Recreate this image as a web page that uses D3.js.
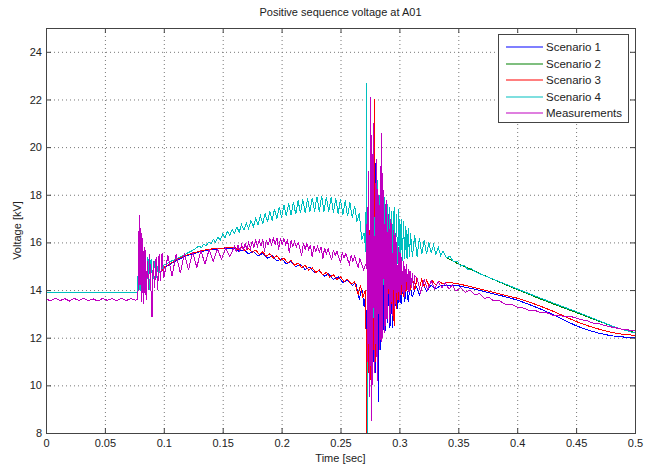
<!DOCTYPE html>
<html>
<head>
<meta charset="utf-8">
<script src="https://cdn.jsdelivr.net/npm/d3@7"></script>
<style>
body{margin:0;background:#fff;}
text{font-family:"Liberation Sans",Arial,sans-serif;fill:#222;}
</style>
</head>
<body>
<div id="chart"></div>
<script>
// axis ticks
var timeTicks = [0,0.05,0.1,0.15,0.2,0.25,0.3,0.35,0.4,0.45,0.5];
var timeTickLabels = ["0","0.05","0.1","0.15","0.2","0.25","0.3","0.35","0.4","0.45","0.5"];
var voltTicks = [8,10,12,14,16,18,20,22,24];
var seriesNames = ["Scenario 1","Scenario 2","Scenario 3","Scenario 4","Measurements"];

// [time s, voltage kV]
// all four scenarios sit on top of each other until ~0.1 s
var prefault = [[0,13.88],[0.078,13.88]];
var jump = [[0.0784,16.4],[0.0792,14.0],[0.0800,16.2],[0.0808,13.5],[0.0818,15.9],[0.0828,13.6],
  [0.0840,15.6],[0.0852,13.8],[0.0865,15.4],[0.0878,14.0],[0.0892,15.3],[0.0906,14.3],
  [0.0920,15.2],[0.0935,14.5],[0.0950,15.0],[0.0970,14.7]];

// Scenario 4 (Scenario 2 lies under it until ~0.34 s)
var s4Main = [[0.100,15.05],[0.105,15.18],[0.110,15.3],[0.115,15.42],[0.120,15.55],[0.125,15.68],
  [0.130,15.85],[0.132,15.78],[0.134,15.93],[0.136,15.86],[0.138,16.01],[0.140,15.95],[0.142,16.12],[0.144,16.02],
  [0.146,16.22],[0.148,16.10],[0.150,16.36],[0.152,16.20],[0.154,16.46],[0.156,16.28],[0.158,16.55],[0.160,16.38],
  [0.162,16.64],[0.164,16.44],[0.166,16.74],[0.168,16.52],[0.170,16.82],[0.172,16.58],[0.174,16.92],[0.176,16.64],
  [0.178,17.02],[0.180,16.72],[0.182,17.12],[0.184,16.78],[0.186,17.22],[0.188,16.86],[0.190,17.30],[0.192,16.92],
  [0.194,17.40],[0.196,16.98],[0.198,17.50],[0.200,17.04],[0.202,17.58],[0.204,17.10],[0.206,17.64],[0.208,17.14],
  [0.210,17.70],[0.212,17.18],[0.214,17.76],[0.216,17.22],[0.218,17.80],[0.220,17.24],[0.222,17.84],[0.224,17.28],
  [0.226,17.88],[0.228,17.30],[0.230,17.92],[0.232,17.30],[0.234,17.95],[0.236,17.30],[0.238,17.92],[0.240,17.28],
  [0.242,17.90],[0.244,17.24],[0.246,17.86],[0.248,17.20],[0.250,17.80],[0.252,17.16],[0.254,17.76],[0.256,17.10],
  [0.258,17.68],[0.260,17.02],[0.262,17.54],[0.264,16.88],[0.266,17.24],[0.268,16.10],[0.270,16.40],[0.2715,15.6],
  [0.2722,22.7],[0.2728,7.6],[0.2735,19.0],[0.2745,10.5],[0.2755,19.5],[0.2765,11.5],[0.2775,18.8],[0.2785,12.5],
  [0.2795,18.2],[0.2805,13.0],[0.2815,18.6],[0.2825,13.4],[0.2835,18.0],[0.2845,13.8],[0.2855,17.8],[0.2865,14.2],
  [0.2875,17.9],[0.2885,14.4],[0.2895,17.6],[0.2905,14.6],[0.2915,17.5],[0.2925,14.8],[0.2935,17.3],[0.2945,14.9],
  [0.2955,17.5],[0.2965,15.0],[0.2975,17.2],[0.2985,15.1],[0.2995,17.4],[0.3005,15.1],[0.3015,17.0],[0.3025,15.2],
  [0.3035,16.9],[0.3045,15.3],[0.3055,16.7],[0.3065,15.3],[0.3075,16.6],[0.3085,15.4],[0.3095,16.4],[0.311,15.4],
  [0.313,16.3],[0.315,15.4],[0.317,16.2],[0.319,15.5],[0.321,16.1],[0.323,15.5],[0.325,16.0],[0.327,15.55],
  [0.329,15.9],[0.331,15.5],[0.333,15.8],[0.335,15.45],[0.337,15.65]];
var s4Tail = [[0.340,15.35],[0.343,15.42],[0.346,15.18],[0.349,15.22],[0.352,15.0],[0.355,15.05],[0.358,14.86],
  [0.361,14.9],[0.365,14.75],[0.370,14.65],[0.380,14.45],[0.390,14.25],[0.400,14.05],[0.410,13.85],[0.420,13.66],
  [0.430,13.47],[0.440,13.28],[0.450,13.1],[0.460,12.9],[0.470,12.7],[0.480,12.5],[0.490,12.33],[0.500,12.2]];
var s2Tail = [[0.340,15.35],[0.350,15.1],[0.360,14.88],[0.370,14.66],[0.380,14.44],[0.390,14.23],[0.400,14.02],
  [0.410,13.82],[0.420,13.62],[0.430,13.43],[0.440,13.24],[0.450,13.06],[0.460,12.87],[0.470,12.68],[0.480,12.5],
  [0.490,12.34],[0.500,12.22]];

// Scenario 3
var s3Main = [[0.100,14.95],[0.105,15.1],[0.110,15.25],[0.115,15.38],[0.120,15.48],[0.125,15.56],[0.130,15.62],
  [0.135,15.68],[0.140,15.72],[0.145,15.75],[0.150,15.76],[0.155,15.78],
  [0.160,15.80],[0.163,15.70],[0.166,15.80],[0.169,15.66],[0.172,15.74],[0.175,15.58],[0.178,15.68],[0.181,15.50],
  [0.184,15.60],[0.187,15.42],[0.190,15.52],[0.193,15.34],[0.196,15.44],[0.199,15.24],[0.202,15.34],[0.205,15.14],
  [0.208,15.24],[0.211,15.04],[0.214,15.14],[0.217,14.94],[0.220,15.04],[0.223,14.84],[0.226,14.94],[0.229,14.74],
  [0.232,14.84],[0.235,14.64],[0.238,14.74],[0.241,14.54],[0.244,14.64],[0.247,14.44],[0.250,14.56],[0.253,14.36],
  [0.256,14.46],[0.259,14.26],[0.262,14.34],[0.265,13.80],[0.267,14.20],[0.269,13.70],[0.271,14.00],
  [0.2718,12.0],[0.2722,7.5],[0.2730,14.5],[0.2740,10.5],[0.2750,16.5],[0.2760,9.5],[0.2770,18.0],[0.2780,11.5],
  [0.2790,22.0],[0.2797,11.0],[0.2805,17.5],[0.2815,11.8],[0.2825,16.8],[0.2835,12.2],[0.2845,16.0],[0.2855,12.8],
  [0.2865,15.8],[0.2875,12.6],[0.2885,15.5],[0.2895,13.0],[0.2905,15.2],[0.2915,13.2],[0.2925,15.0],[0.2935,13.4],
  [0.2945,14.9],[0.2955,12.5],[0.2965,14.8],[0.2975,13.2],[0.2985,14.6],[0.2995,13.6],[0.3005,14.7],[0.3015,13.8],
  [0.3025,14.5],[0.3035,13.7],[0.3045,14.6],[0.3055,13.9],[0.3065,14.5],[0.3075,13.9],[0.3085,14.6],[0.3095,14.0],
  [0.311,14.5],[0.313,14.0],[0.315,14.5],[0.317,14.1],[0.319,14.45],[0.321,14.15],[0.323,14.4],[0.325,14.2],
  [0.328,14.38],[0.331,14.22],[0.334,14.36],[0.337,14.25],[0.340,14.32],[0.345,14.30],[0.350,14.26],[0.360,14.15],
  [0.370,14.02],[0.380,13.9],[0.390,13.78],[0.400,13.66],[0.410,13.5],[0.420,13.32],[0.430,13.12],[0.440,12.9],
  [0.450,12.68],[0.460,12.5],[0.470,12.35],[0.480,12.22],[0.490,12.14],[0.500,12.1]];

// Scenario 1
var s1Main = [[0.100,14.92],[0.110,15.22],[0.120,15.45],[0.130,15.6],[0.140,15.7],[0.150,15.74],[0.160,15.74],
  [0.164,15.62],[0.168,15.70],[0.172,15.52],[0.176,15.62],[0.180,15.44],[0.184,15.54],[0.188,15.34],[0.192,15.44],
  [0.196,15.22],[0.200,15.32],[0.204,15.10],[0.208,15.20],[0.212,14.98],[0.216,15.08],[0.220,14.86],[0.224,14.96],
  [0.228,14.72],[0.232,14.82],[0.236,14.58],[0.240,14.68],[0.244,14.44],[0.248,14.56],[0.252,14.32],[0.256,14.42],
  [0.260,14.2],[0.263,14.3],[0.266,13.6],[0.268,14.1],[0.270,13.3],[0.2715,13.9],
  [0.2718,12.5],[0.2724,8.2],[0.2732,15.0],[0.2742,10.8],[0.2752,17.0],[0.2762,10.2],[0.2772,18.5],[0.2782,11.0],
  [0.2792,20.5],[0.2800,10.5],[0.2812,17.0],[0.2820,9.3],[0.2830,16.5],[0.2840,11.5],[0.2850,15.8],[0.2860,12.0],
  [0.2870,15.5],[0.2880,12.3],[0.2890,15.0],[0.2900,12.6],[0.2910,14.8],[0.2920,12.4],[0.2930,14.6],[0.2940,12.4],
  [0.2950,14.5],[0.2960,12.9],[0.2970,14.4],[0.2985,13.2],[0.3000,14.3],[0.3015,13.4],[0.3030,14.3],[0.3045,13.5],
  [0.3060,14.2],[0.3075,13.5],[0.309,14.2],[0.311,13.7],[0.314,14.2],[0.317,13.8],[0.320,14.25],[0.323,13.95],
  [0.327,14.2],[0.331,14.05],[0.335,14.2],[0.340,14.2],[0.350,14.18],[0.360,14.08],[0.370,13.96],[0.380,13.84],
  [0.390,13.72],[0.400,13.58],[0.410,13.4],[0.420,13.2],[0.430,12.98],[0.440,12.74],[0.450,12.5],[0.460,12.32],
  [0.470,12.18],[0.480,12.08],[0.490,12.03],[0.500,12.0]];

// Measurements
var measured = [[0,13.62],[0.004,13.55],[0.008,13.66],[0.012,13.56],[0.016,13.64],[0.020,13.54],[0.024,13.65],
  [0.028,13.56],[0.032,13.66],[0.036,13.55],[0.040,13.63],[0.044,13.54],[0.048,13.65],[0.052,13.57],[0.056,13.64],
  [0.060,13.55],[0.064,13.66],[0.068,13.56],[0.072,13.64],[0.076,13.58],[0.0780,13.6],
  [0.0786,15.5],[0.0792,17.15],[0.0798,14.2],[0.0806,16.6],[0.0814,13.5],[0.0822,16.2],[0.0830,13.4],[0.0840,15.8],
  [0.0850,13.6],[0.0860,15.2],[0.0870,14.0],[0.0880,15.5],[0.0892,13.9],[0.0900,12.85],[0.0910,15.2],[0.0922,14.1],
  [0.0935,15.4],[0.0948,14.0],[0.0960,15.5],[0.0972,14.4],[0.0985,15.55],[0.1000,14.5],
  [0.1035,15.45],[0.1070,14.6],[0.1105,15.5],[0.1140,14.7],[0.1175,15.55],[0.1210,14.85],[0.1245,15.6],[0.1280,14.95],
  [0.1315,15.65],[0.1350,15.1],[0.1385,15.7],[0.1420,15.2],[0.1455,15.72],[0.1490,15.3],[0.1525,15.75],[0.156,15.4],
  [0.1600,15.84],[0.1615,15.62],[0.1630,15.88],[0.1645,15.64],[0.1660,15.90],[0.1675,15.68],[0.1690,15.95],[0.1705,15.72],
  [0.1720,15.98],[0.1735,15.76],[0.1750,16.04],[0.1765,15.80],[0.1780,16.08],[0.1795,15.84],[0.1810,16.10],[0.1825,15.86],
  [0.1840,16.12],[0.1855,15.62],[0.1870,16.10],[0.1885,15.88],[0.1900,16.16],[0.1915,15.90],[0.1930,16.18],[0.1945,15.92],
  [0.1960,16.20],[0.1975,15.70],[0.1990,16.18],[0.2005,15.92],[0.2020,16.16],[0.2035,15.90],[0.2050,16.12],[0.2065,15.55],
  [0.2080,16.08],[0.2095,15.84],[0.2110,16.06],[0.2125,15.80],[0.2140,16.00],[0.2155,15.76],[0.2170,15.42],[0.2185,15.96],
  [0.2200,15.72],[0.2215,15.94],[0.2230,15.70],[0.2245,15.90],[0.2260,15.38],[0.2275,15.86],[0.2290,15.62],[0.2305,15.84],
  [0.2320,15.58],[0.2335,15.80],[0.2350,15.32],[0.2365,15.76],[0.2380,15.52],[0.2395,15.74],[0.2410,15.48],[0.2425,15.26],
  [0.2440,15.68],[0.2455,15.44],[0.2470,15.64],[0.2485,15.38],[0.2500,15.14],[0.2515,15.58],[0.2530,15.34],[0.2545,15.54],
  [0.2560,15.30],[0.2575,15.08],[0.2590,15.46],[0.2605,15.22],[0.2620,15.42],[0.2635,15.18],[0.2650,14.95],[0.2665,15.32],
  [0.2680,15.10],[0.2695,14.85],
  [0.2715,15.1],[0.2720,14.9],[0.2727,17.5],[0.2733,11.0],[0.2740,19.0],[0.2747,9.5],[0.2754,22.1],[0.2760,8.5],
  [0.2767,20.5],[0.2774,10.0],[0.2781,21.0],[0.2788,10.5],[0.2795,18.5],[0.2802,11.2],[0.2809,19.5],[0.2816,10.2],
  [0.2823,18.0],[0.2830,11.5],[0.2837,19.2],[0.2844,11.8],[0.2851,20.6],[0.2858,12.0],[0.2865,18.2],[0.2872,12.2],
  [0.2879,17.6],[0.2886,12.5],[0.2893,17.8],[0.2900,12.8],[0.2907,17.2],[0.2914,12.6],[0.2921,17.0],[0.2928,13.0],
  [0.2935,16.8],[0.2942,12.9],[0.2949,16.5],[0.2956,13.2],[0.2963,16.4],[0.2970,13.4],[0.2977,16.0],[0.2984,13.6],
  [0.2991,15.8],[0.2998,13.5],[0.3005,15.6],[0.3012,13.8],[0.3019,15.4],[0.3026,13.9],[0.3033,15.2],[0.3040,13.7],
  [0.3047,15.0],[0.3054,14.0],[0.3061,15.1],[0.3068,14.0],[0.3075,14.9],[0.3082,13.9],[0.309,14.8],[0.310,14.1],
  [0.311,14.7],[0.312,14.0],[0.313,14.6],[0.315,14.5],[0.318,13.9],[0.321,14.45],[0.324,14.0],[0.327,14.4],
  [0.330,14.05],[0.333,14.35],[0.336,14.1],[0.339,14.3],[0.342,14.05],[0.345,14.2],[0.348,13.95],[0.352,14.1],
  [0.356,13.9],[0.360,14.0],[0.364,13.8],[0.368,13.85],[0.372,13.65],[0.376,13.7],[0.380,13.55],[0.385,13.55],
  [0.390,13.4],[0.395,13.4],[0.400,13.28],[0.405,13.25],[0.410,13.15],[0.415,13.15],[0.420,13.05],[0.425,13.05],
  [0.430,12.95],[0.435,12.95],[0.440,12.88],[0.445,12.9],[0.450,12.82],[0.455,12.75],[0.460,12.7],[0.465,12.6],
  [0.470,12.58],[0.475,12.5],[0.480,12.45],[0.485,12.4],[0.490,12.35],[0.495,12.32],[0.500,12.3]];

function init(){
    var w = 650;
    var h = 466;
    var left = 46, right = 635, top = 28, bottom = 433;
    var colors = ["#0000ff","#008000","#ff0000","#00bfbf","#bf00bf"];

    var x = d3.scaleLinear().domain([0, 0.5]).range([left, right]);
    var y = d3.scaleLinear().domain([8, 25]).range([bottom, top]);

    var svg = d3.select("#chart")
                .append("svg")
                .attr("width", w)
                .attr("height", h);

    svg.append("clipPath")
        .attr("id", "plotclip")
        .append("rect")
        .attr("x", left).attr("y", top)
        .attr("width", right - left).attr("height", bottom - top);

    // dotted grid
    svg.append("g").selectAll("line")
        .data(timeTicks.slice(1, -1))
        .enter().append("line")
        .attr("x1", function(d){ return x(d) + 0.5; })
        .attr("x2", function(d){ return x(d) + 0.5; })
        .attr("y1", top).attr("y2", bottom)
        .style("stroke", "#777").style("stroke-dasharray", "1,3");
    svg.append("g").selectAll("line")
        .data(voltTicks)
        .enter().append("line")
        .attr("y1", function(d){ return y(d) + 0.5; })
        .attr("y2", function(d){ return y(d) + 0.5; })
        .attr("x1", left).attr("x2", right)
        .style("stroke", "#777").style("stroke-dasharray", "1,3");

    var series = [
        prefault.concat(jump, s1Main),
        prefault.concat(jump, s4Main, s2Tail),
        prefault.concat(jump, s3Main),
        prefault.concat(jump, s4Main, s4Tail),
        measured
    ];

    var line = d3.line()
                .x(function(d){ return x(d[0]); })
                .y(function(d){ return y(d[1]); });

    // MATLAB-style aliased lines, so the curves drawn later fully hide the ones beneath
    svg.append("g")
        .attr("clip-path", "url(#plotclip)")
        .selectAll("path")
        .data(series)
        .enter()
        .append("path")
        .attr("d", line)
        .attr("shape-rendering", "crispEdges")
        .style("fill", "none")
        .style("stroke", function(d, i){ return colors[i]; })
        .style("stroke-width", 1);

    // axes with inward ticks
    var xAxis = d3.axisBottom(x).tickValues(timeTicks)
                .tickFormat(function(d, i){ return timeTickLabels[i]; })
                .tickSizeInner(-5).tickSizeOuter(0).tickPadding(6);
    var yAxis = d3.axisLeft(y).tickValues(voltTicks)
                .tickSizeInner(-5).tickSizeOuter(0).tickPadding(4);

    svg.append("g").attr("class", "axis").attr("transform", "translate(0," + bottom + ")").call(xAxis);
    svg.append("g").attr("class", "axis").attr("transform", "translate(" + left + ",0)").call(yAxis);
    svg.append("g").attr("class", "axis").attr("transform", "translate(0," + top + ")")
        .call(d3.axisTop(x).tickValues(timeTicks).tickFormat("").tickSizeInner(-5).tickSizeOuter(0));
    svg.append("g").attr("class", "axis").attr("transform", "translate(" + right + ",0)")
        .call(d3.axisRight(y).tickValues(voltTicks).tickFormat("").tickSizeInner(-5).tickSizeOuter(0));

    svg.selectAll(".axis .domain").remove();
    svg.selectAll(".axis line").style("stroke", "#444");
    svg.selectAll(".axis text").style("font-size", "11px").style("fill", "#222")
        .style("font-family", "'Liberation Sans', Arial, sans-serif");

    svg.append("rect")
        .attr("x", left + 0.5).attr("y", top + 0.5)
        .attr("width", right - left).attr("height", bottom - top)
        .style("fill", "none").style("stroke", "#444");

    // titles
    svg.append("text").attr("x", (left + right) / 2).attr("y", 16)
        .attr("text-anchor", "middle").style("font-size", "11px")
        .text("Positive sequence voltage at A01");
    svg.append("text").attr("x", (left + right) / 2).attr("y", 462)
        .attr("text-anchor", "middle").style("font-size", "11px")
        .text("Time [sec]");
    svg.append("text")
        .attr("transform", "translate(21," + ((top + bottom) / 2) + ") rotate(-90)")
        .attr("text-anchor", "middle").style("font-size", "11px")
        .text("Voltage [kV]");

    // legend
    var legend = svg.append("g");
    legend.append("rect")
        .attr("x", 498.5).attr("y", 34.5)
        .attr("width", 130).attr("height", 88)
        .style("fill", "#fff").style("stroke", "#444");
    var rows = legend.selectAll("g.row")
        .data(seriesNames)
        .enter().append("g")
        .attr("class", "row")
        .attr("transform", function(d, i){ return "translate(0," + Math.round(47 + i * 16.5) + ")"; });
    rows.append("line")
        .attr("x1", 506).attr("x2", 543).attr("y1", 0).attr("y2", 0)
        .style("stroke", function(d, i){ return colors[i]; })
        .style("stroke-width", 1.2);
    rows.append("text")
        .attr("x", 546).attr("y", 4)
        .style("font-size", "11.5px")
        .text(function(d){ return d; });
}
window.onload = init;
</script>
</body>
</html>
